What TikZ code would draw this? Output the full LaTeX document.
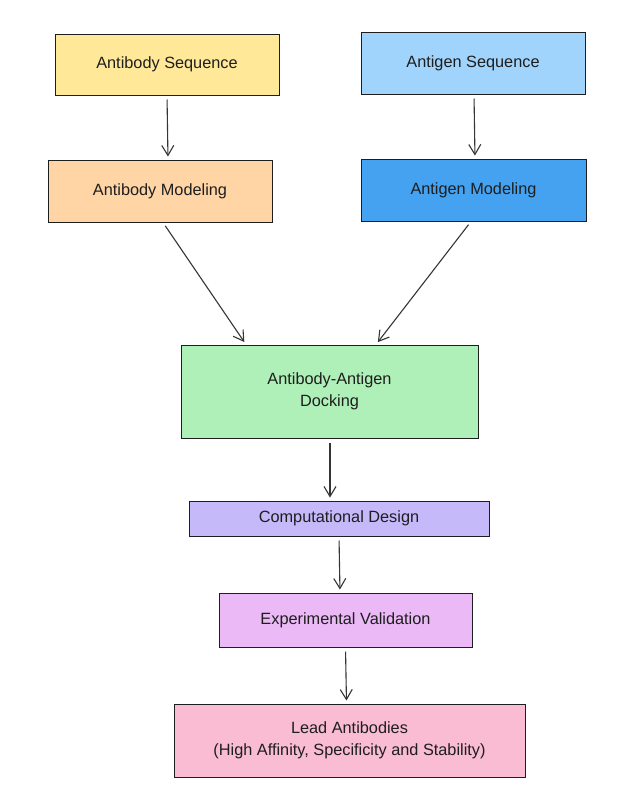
\documentclass[tikz,border=0pt]{standalone}
\usepackage{fontspec}
\setmainfont{Liberation Sans}
\usetikzlibrary{arrows.meta}
\definecolor{ink}{HTML}{1E1E1E}
\definecolor{cyellow}{HTML}{FFE999}
\definecolor{clblue}{HTML}{A0D4FC}
\definecolor{corange}{HTML}{FFD5A5}
\definecolor{cblue}{HTML}{45A2F0}
\definecolor{cgreen}{HTML}{AFEFB8}
\definecolor{cviolet}{HTML}{C6B9FA}
\definecolor{cpurple}{HTML}{EAB9F6}
\definecolor{cpink}{HTML}{F9BCD2}
\tikzset{
  box/.style={draw=ink, line width=1pt, text=ink, align=center, inner sep=0pt,
    font=\fontsize{16.3}{21.5}\selectfont},
  flow/.style={draw=ink!90, line width=1.1pt, -{Straight Barb[length=10pt,width=12pt,line width=1.1pt]},
    shorten <=4pt, shorten >=3pt}
}
\begin{document}
\begin{tikzpicture}[x=1pt,y=-1pt]
\useasboundingbox[fill=white] (0,0) rectangle (637,806);
\node[box, fill=cyellow, minimum width=224pt, minimum height=61pt] (aseq) at (167,64.5) {Antibody Sequence};
\node[box, fill=clblue, minimum width=224pt, minimum height=62pt] (gseq) at (473,63) {Antigen Sequence};
\node[box, fill=corange, minimum width=224pt, minimum height=62pt] (amod) at (160,191) {Antibody Modeling};
\node[box, fill=cblue, minimum width=225pt, minimum height=62pt] (gmod) at (473.5,190) {Antigen Modeling};
\node[box, fill=cgreen, minimum width=297pt, minimum height=93pt] (dock) at (329.5,391.5) {Antibody-Antigen\\Docking};
\node[box, fill=cviolet, minimum width=300pt, minimum height=35pt] (comp) at (339,518.5) {Computational Design};
\node[box, fill=cpurple, minimum width=253pt, minimum height=54pt] (expv) at (345.5,620) {Experimental Validation};
\node[box, fill=cpink, minimum width=351pt, minimum height=73pt] (lead) at (349.5,740.5) {Lead Antibodies\\(High Affinity, Specificity and Stability)};

\draw[flow] (aseq.south) -- ([xshift=1pt]aseq.south |- amod.north);
\draw[flow] ([xshift=1pt]gseq.south) -- ([xshift=2pt]gseq.south |- gmod.north);
\draw[flow] ([xshift=3pt]amod.south) -- ([xshift=-83.5pt]dock.north);
\draw[flow] ([xshift=-2.5pt]gmod.south) -- ([xshift=46.5pt]dock.north);
\draw[flow] ([xshift=0.5pt]dock.south) -- ([xshift=0.5pt]dock.south |- comp.north);
\draw[flow] (comp.south) -- ([xshift=1pt]comp.south |- expv.north);
\draw[flow] (expv.south) -- ([xshift=1pt]expv.south |- lead.north);
\end{tikzpicture}
\end{document}
